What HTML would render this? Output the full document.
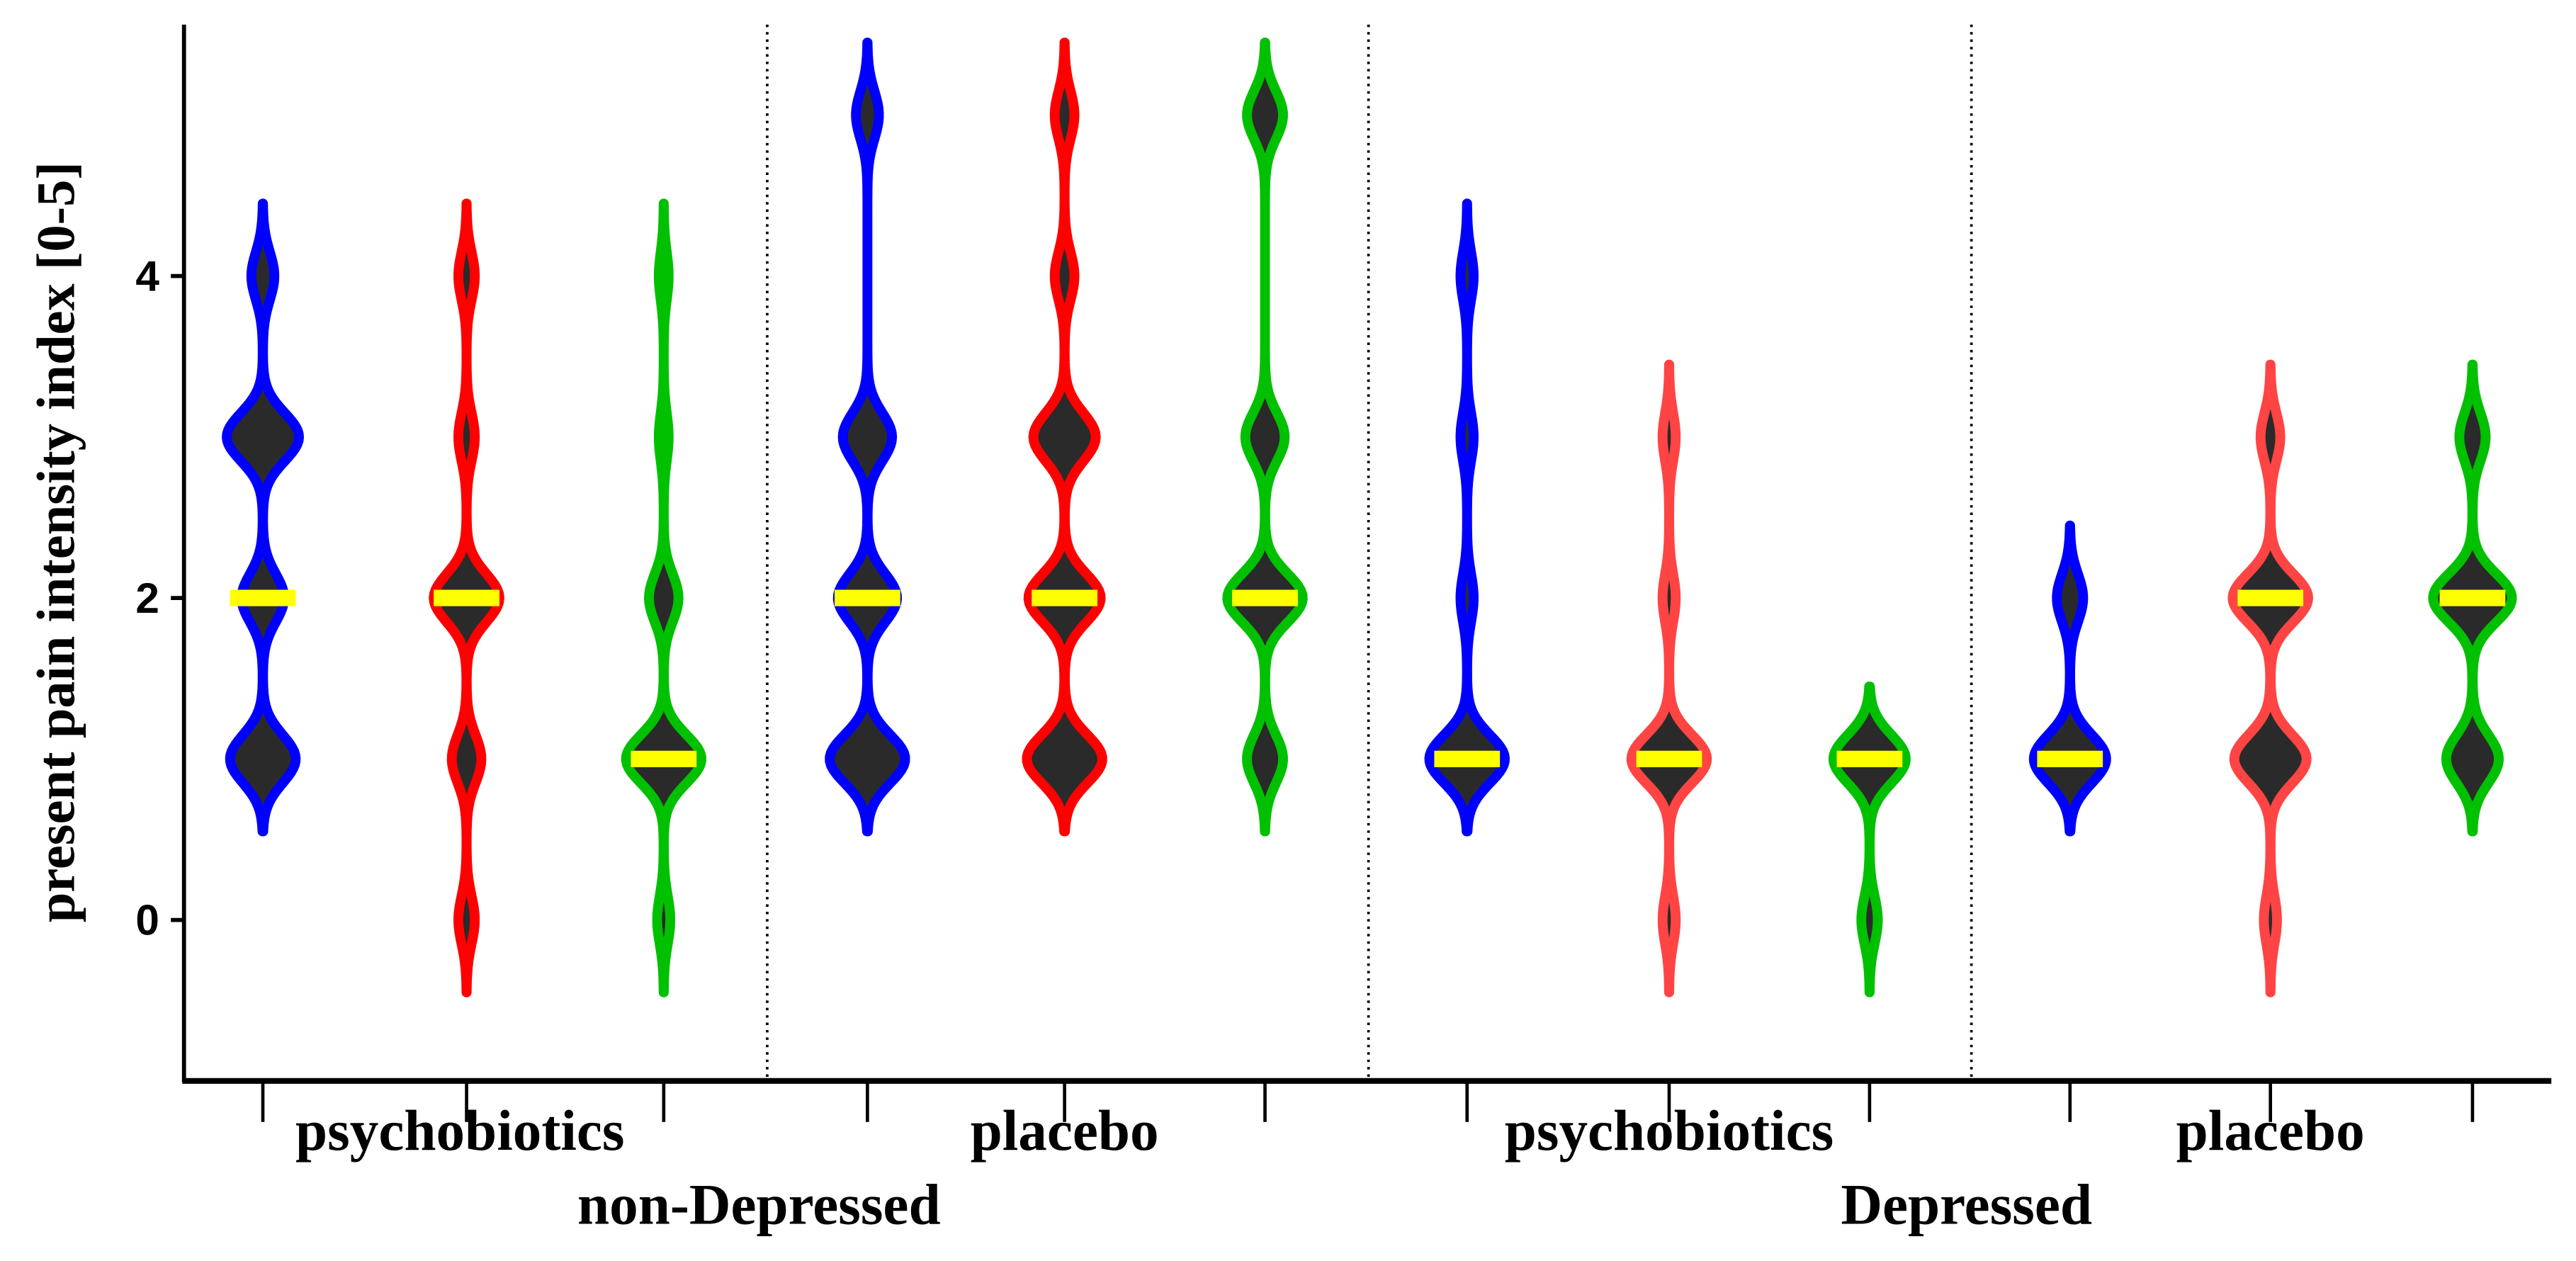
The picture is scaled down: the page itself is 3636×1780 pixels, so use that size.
<!DOCTYPE html>
<html><head><meta charset="utf-8"><style>
html,body{margin:0;padding:0;background:#fff;}
svg{display:block;}
</style></head><body>
<svg id="chart" width="3636" height="1780" viewBox="0 0 1568 767.6" xmlns="http://www.w3.org/2000/svg">
<g id="plot"></g>
</svg>
<script>
const yTicks = [0, 2, 4];
const violinX = [160, 284, 404, 528, 648, 770, 893, 1016, 1138, 1260, 1382, 1505];
const violinColors = ['#0000ff','#ff0000','#00c000','#0000ff','#ff0000','#00c000','#0000ff','#ff4444','#00c000','#0000ff','#ff4444','#00c000'];
// relative density weights at values 0..5
const violinWeights = [
  [0,20,13,22,7,0],
  [5,9,20,5,5,0],
  [4,23,9,3,3,0],
  [0,23,18,15,0,7],
  [0,23,22,19,6,6],
  [0,11,23,12,0,11],
  [0,23,4,4,4,0],
  [4,23,4,4,0,0],
  [5,22,0,0,0,0],
  [0,22,8,0,0,0],
  [4,22,23,6,0,0],
  [0,16,24,8,0,0]
];
const medians = [2,2,1,2,2,2,1,1,1,1,2,2];
const treatmentLabels = ['psychobiotics','placebo','psychobiotics','placebo'];
const treatmentX = [280, 648, 1016, 1382];
const groupLabels = ['non-Depressed','Depressed'];
const groupX = [462, 1197];
const dividerX = [467, 833, 1200];

const NS='http://www.w3.org/2000/svg';
const g=document.getElementById('plot');
function yS(v){return 560 - v*98;}
function mk(t,a,p){const e=document.createElementNS(NS,t);for(const k in a)e.setAttribute(k,a[k]);(p||g).appendChild(e);return e;}

dividerX.forEach(x=>{
  const l=mk('line',{x1:x,y1:15,x2:x,y2:656,stroke:'#000','stroke-width':1.6,'stroke-dasharray':'1.5 3'});
  
  
});

const clip=mk('clipPath',{id:'pc'});
mk('rect',{x:112,y:15,width:1450,height:645},clip);
const vg=mk('g',{'clip-path':'url(#pc)'});

violinWeights.forEach((w,i)=>{
  const cx=violinX[i];
  const vals=[];w.forEach((c,k)=>{if(c>0)vals.push(k);});
  const lo=Math.min(...vals)-0.45, hi=Math.max(...vals)+0.45;
  const h=0.15, N=180;
  const right=[],left=[];
  for(let s=0;s<=N;s++){
    const v=lo+(hi-lo)*s/N;
    let d=0;w.forEach((c,k)=>{d+=c*Math.exp(-((v-k)**2)/(2*h*h));});
    right.push([cx+d,yS(v)]);left.push([cx-d,yS(v)]);
  }
  const pts=right.concat(left.reverse());
  const path=mk('path',{d:'M'+pts.map(p=>p[0].toFixed(2)+','+p[1].toFixed(2)).join('L')+'Z',fill:'#2a2a2a',stroke:violinColors[i],'stroke-width':6,'stroke-linejoin':'round'},vg);
  
  
  const m=mk('rect',{x:cx-20,y:yS(medians[i])-5,width:40,height:10,fill:'#ffff00'},vg);
  
  
});

const ya=mk('line',{x1:112,y1:15,x2:112,y2:659,stroke:'#000','stroke-width':2.5});


const xa=mk('line',{x1:111,y1:658,x2:1553,y2:658,stroke:'#000','stroke-width':3.5});


yTicks.forEach(t=>{
  const tk=mk('line',{x1:104,y1:yS(t),x2:112,y2:yS(t),stroke:'#000','stroke-width':2.5});
  
  
  const tx=mk('text',{x:97,y:yS(t)+9,'text-anchor':'end','font-family':'Liberation Sans, sans-serif','font-weight':'bold','font-size':26});
  tx.textContent=t;
  
  
});
violinX.forEach(x=>{
  const tk=mk('line',{x1:x,y1:658,x2:x,y2:683,stroke:'#000','stroke-width':2});
  
  
});
treatmentLabels.forEach((s,i)=>{
  const tx=mk('text',{x:treatmentX[i],y:700,'text-anchor':'middle','font-family':'Liberation Serif, serif','font-weight':'bold','font-size':35});
  tx.textContent=s;
  
  
});
groupLabels.forEach((s,i)=>{
  const tx=mk('text',{x:groupX[i],y:745,'text-anchor':'middle','font-family':'Liberation Serif, serif','font-weight':'bold','font-size':35});
  tx.textContent=s;
  
  
});
const yl=mk('text',{x:0,y:0,'text-anchor':'middle','font-family':'Liberation Serif, serif','font-weight':'bold','font-size':33,transform:'translate(45,330) rotate(-90)'});
yl.textContent='present pain intensity index [0-5]';


</script>
</body></html>
